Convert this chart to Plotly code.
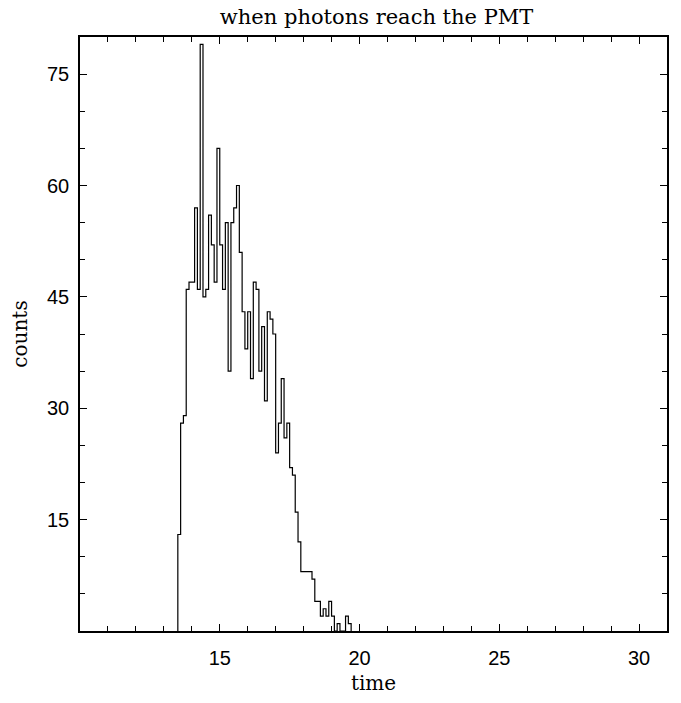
import numpy as np
import plotly.graph_objects as go

# ---- data ----
title_text = "when photons reach the PMT"
x_title = "time"
y_title = "counts"

bin_start = 13.5   # left edge of first filled bin
bin_width = 0.1
counts = [13, 28, 29, 46, 47, 47, 57, 46, 79, 45,
          46, 56, 52, 47, 65, 52, 46, 55, 35, 55,
          57, 60, 51, 43, 38, 43, 34, 47, 46, 35,
          41, 31, 43, 42, 40, 24, 28, 34, 26, 28,
          22, 21, 16, 12, 8, 8, 8, 8, 7, 4,
          4, 2, 3, 2, 4, 2, 0, 1, 0, 0,
          2, 1]

x_tick_vals = [15, 20, 25, 30]
y_tick_vals = [15, 30, 45, 60, 75]
x_range = [10, 31]
y_range = [0, 80]

# ---- build step outline ----
edges = bin_start + bin_width * np.arange(len(counts) + 1)
xs = [edges[0]] + list(edges)
ys = [0] + list(counts) + [0]

fig = go.Figure()
fig.add_trace(go.Scatter(
    x=xs, y=ys, mode="lines", line=dict(color="black", width=1.2, shape="hv"),
    hoverinfo="skip", showlegend=False))

serif = "DejaVu Serif, Liberation Serif, serif"
axis_common = dict(
    showline=True, linecolor="black", linewidth=1.5, mirror="allticks",
    ticks="inside", tickcolor="black", ticklen=7, tickwidth=1,
    showgrid=False, zeroline=False,
    tickfont=dict(family="Liberation Sans, Arial, sans-serif", size=20, color="black"),
)

fig.update_layout(
    width=681, height=703,
    margin=dict(l=80, r=13, t=37, b=70),
    paper_bgcolor="white", plot_bgcolor="white",
    title=dict(text=title_text, x=0.553, xanchor="center", y=0.976, yanchor="middle",
               font=dict(family=serif, size=21, color="black")),
    xaxis=dict(range=x_range, tickvals=x_tick_vals,
               minor=dict(dtick=1, ticks="inside", ticklen=5, tickcolor="black", showgrid=False),
               ticklabelstandoff=8,
               title=dict(text=x_title, standoff=8,
                          font=dict(family=serif, size=20, color="black")),
               **axis_common),
    yaxis=dict(range=y_range, tickvals=y_tick_vals,
               minor=dict(dtick=5, ticks="inside", ticklen=5, tickcolor="black", showgrid=False),
               title=dict(text=y_title, standoff=14,
                          font=dict(family=serif, size=20, color="black")),
               ticklabelstandoff=5,
               **axis_common),
)

fig.write_html("out.html")
